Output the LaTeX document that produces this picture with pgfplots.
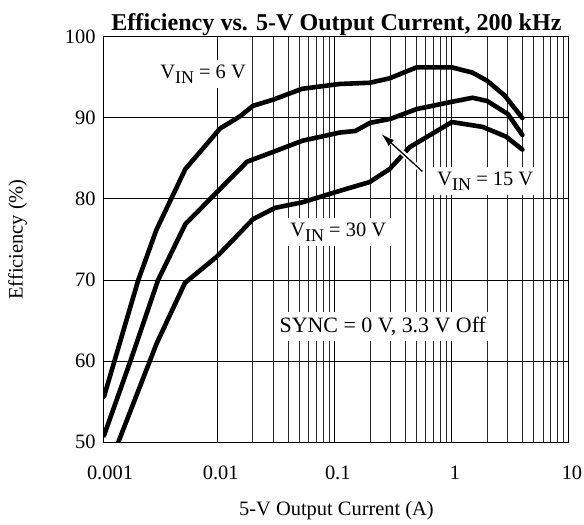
\documentclass[border=0pt]{standalone}
\usepackage{pgfplots}
\pgfplotsset{compat=1.18}
\usepackage{fontspec}
\setmainfont{Liberation Serif}
\usetikzlibrary{arrows.meta,calc}
\newcommand{\vin}{V\raisebox{-0.22em}{\scalebox{0.88}{IN}}}
\begin{document}
\begin{tikzpicture}
\begin{axis}[
  scale only axis,
  width=465bp, height=405bp,
  xmode=log, xmin=0.00107, xmax=10, ymin=50, ymax=100,
  xtick={0.01,0.1,1,10},
  xticklabels={0.01,0.1,1,10},
  ytick={50,60,70,80,90,100},
  xmajorgrids, xminorgrids, ymajorgrids,
  major grid style={black, line width=1bp},
  minor grid style={black!85, line width=1bp},
  major tick length=0pt, minor tick length=0pt,
  axis line style={black, line width=1bp},
  tick label style={font=\fontsize{20.5}{23}\selectfont},
  /pgf/number format/assume math mode=true,
  xticklabel style={anchor=base, yshift=-37.5bp, xshift=3bp},
  yticklabel style={xshift=-5bp},
  label style={font=\fontsize{20.5}{23}\selectfont},
  xlabel={5-V Output Current (A)},
  ylabel={Efficiency (\%)},
  xlabel style={yshift=-15bp},
  ylabel style={yshift=31bp},
  title={\textbf{Efficiency vs. 5-V Output Current, 200 kHz}},
  title style={font=\fontsize{24.2}{28}\selectfont, yshift=-8bp},
  clip=true,
]
\coordinate (SW) at (rel axis cs:0,0);
\coordinate (NE) at (rel axis cs:1,1);
% V_IN = 6 V
\addplot[black, line width=4.6bp, line join=round, line cap=round] coordinates {
(0.00107,55.6) (0.0021,70.0) (0.0030,76.2) (0.0053,83.7) (0.01047,88.7) (0.0155,90.2) (0.02,91.5) (0.0296,92.25) (0.0524,93.6) (0.11,94.2) (0.199,94.35) (0.294,94.9) (0.499,96.25) (1.0,96.25) (1.5,95.6) (2,94.6) (2.81,92.8) (4.0,90.0)
};
% V_IN = 15 V
\addplot[black, line width=4.6bp, line join=round, line cap=round] coordinates {
(0.00107,50.8) (0.0018,60.0) (0.0031,70.0) (0.0053,76.9) (0.00986,80.85) (0.0178,84.6) (0.0296,85.8) (0.0531,87.2) (0.11,88.2) (0.15,88.4) (0.2,89.4) (0.3,89.9) (0.5,91.1) (1,92.0) (1.5,92.5) (2,92.1) (3,90.5) (4,87.9)
};
% V_IN = 30 V
\addplot[black, line width=4.6bp, line join=round, line cap=round] coordinates {
(0.00142,50) (0.00302,62.2) (0.00526,69.65) (0.00986,72.9) (0.02,77.5) (0.0308,78.9) (0.0531,79.6) (0.11,81.0) (0.199,82.1) (0.294,83.7) (0.436,86.4) (1,89.5) (1.83,88.9) (2.9,87.7) (4,86.1)
};
% arrow
\draw[white, line width=5bp] (axis cs:0.56,83.4) -- (axis cs:0.27,87.7);
\draw[black, line width=1.3bp, -{Latex[length=13bp,width=8bp]}] (axis cs:0.56,83.4) -- (axis cs:0.251,88.0);
% labels
\node[fill=white, inner xsep=6bp, inner ysep=5bp, font=\fontsize{20.5}{23}\selectfont] at (axis cs:0.0075,95.4) {\vin{} = 6 V};
\node[fill=white, inner xsep=6bp, inner ysep=5bp, font=\fontsize{20.5}{23}\selectfont] at (axis cs:1.93,82.2) {\vin{} = 15 V};
\node[fill=white, inner xsep=6bp, inner ysep=5bp, font=\fontsize{20.5}{23}\selectfont] at (axis cs:0.107,75.9) {\vin{} = 30 V};
\node[fill=white, inner xsep=6bp, inner ysep=5bp, font=\fontsize{22}{25}\selectfont] at (axis cs:0.257,64.3) {SYNC = 0 V, 3.3 V Off};
\end{axis}
\node[anchor=base, font=\fontsize{20.5}{23}\selectfont] at ($(SW)+(6bp,-37.5bp)$) {0.001};
\pgfresetboundingbox
\path ($(SW)+(-104bp,-83bp)$) rectangle ($(NE)+(15bp,37bp)$);
\end{tikzpicture}
\end{document}
